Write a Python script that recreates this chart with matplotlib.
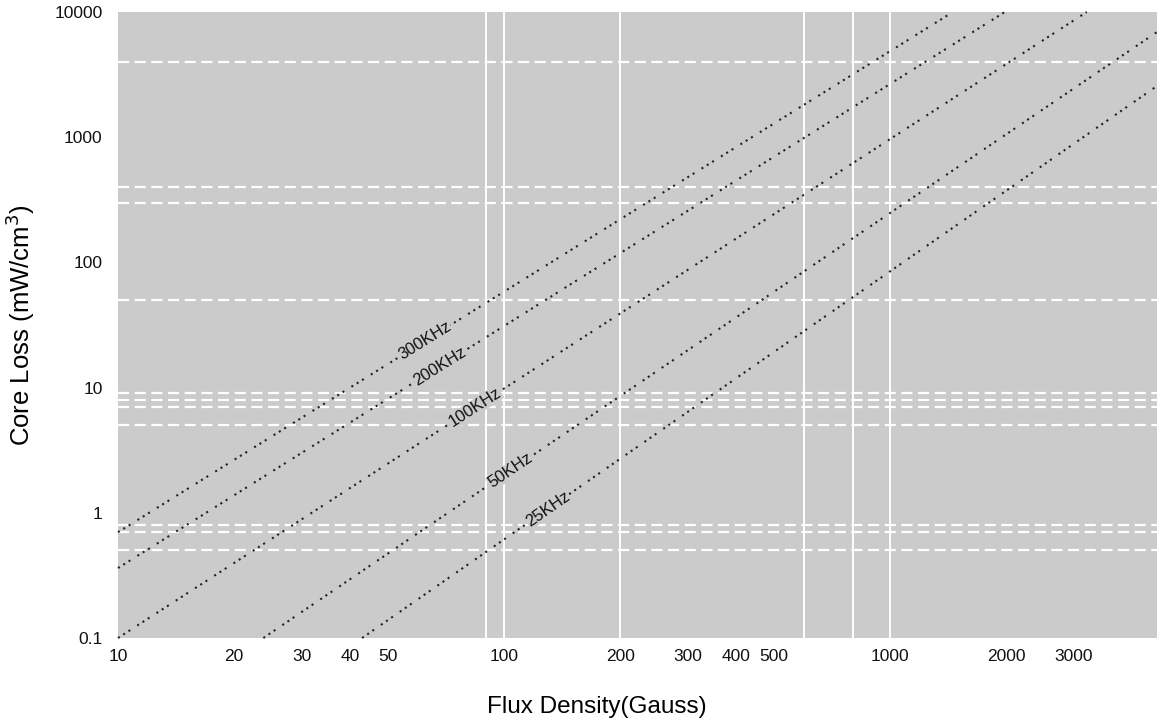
import numpy as np
import matplotlib
matplotlib.use("Agg")
import matplotlib.pyplot as plt

# core loss curves, straight lines on log-log
freq_labels = ["300KHz", "200KHz", "100KHz", "50KHz", "25KHz"]
flux_start = [10, 10, 10, 23.8, 42.9]
loss_start = [0.70, 0.362, 0.1, 0.1, 0.1]
flux_end = [1456, 1985, 3236, 4920, 4920]
loss_end = [10000, 10000, 10000, 6920, 2565]
label_flux = [62.4, 68.2, 84.1, 103.8, 130]

x_ticks = [10, 20, 30, 40, 50, 100, 200, 300, 400, 500, 1000, 2000, 3000]
y_ticks = [0.1, 1, 10, 100, 1000, 10000]
y_ticklabels = ["0.1", "1", "10", "100", "1000", "10000"]

# odd white grid lines in the original
vgrid = [90, 100, 200, 600, 800, 1000]
hgrid = [4000, 400, 300, 50, 9, 8, 7, 5, 0.8, 0.7, 0.5]

plt.rcParams['font.family'] = ['Liberation Sans', 'DejaVu Sans']

fig = plt.figure(figsize=(11.57, 7.23), dpi=100)
ax = fig.add_axes([118/1157, (723-638)/723, 1 - 118/1157, (638-12)/723])
ax.set_facecolor('#cbcbcb')
ax.set_xscale('log')
ax.set_yscale('log')
ax.set_xlim(10, 4920)
ax.set_ylim(0.1, 10000)

for v in vgrid:
    ax.axvline(v, color='white', lw=1.4, zorder=1)
for h in hgrid:
    ax.axhline(h, color='white', lw=1.6, ls=(0, (5, 2.5)), zorder=1)

for i, name in enumerate(freq_labels):
    xs = [flux_start[i], flux_end[i]]
    ys = [loss_start[i], loss_end[i]]
    ax.plot(xs, ys, color='#222222', lw=1.5,
            ls=(0, (1, 2, 1, 2, 1, 4)), zorder=2, clip_on=False)
    # label sitting on the line
    lx = label_flux[i]
    t = (np.log10(lx) - np.log10(xs[0])) / (np.log10(xs[1]) - np.log10(xs[0]))
    ly = 10 ** (np.log10(ys[0]) + t * (np.log10(ys[1]) - np.log10(ys[0])))
    p0 = ax.transData.transform((xs[0], ys[0]))
    p1 = ax.transData.transform((xs[1], ys[1]))
    ang = np.degrees(np.arctan2(p1[1] - p0[1], p1[0] - p0[0]))
    ax.text(lx, ly, name, rotation=ang, rotation_mode='anchor',
            ha='center', va='center', fontsize=12, color='#111111', zorder=3,
            bbox=dict(facecolor='#cbcbcb', edgecolor='none', pad=0.3))

ax.set_xticks(x_ticks)
ax.set_xticklabels([str(v) for v in x_ticks])
ax.set_yticks(y_ticks)
ax.set_yticklabels(y_ticklabels)
ax.xaxis.set_minor_locator(matplotlib.ticker.NullLocator())
ax.yaxis.set_minor_locator(matplotlib.ticker.NullLocator())
ax.tick_params(length=0, labelsize=12.5, colors='#111111')
ax.tick_params(axis='x', pad=8)
ax.tick_params(axis='y', pad=11)
for s in ax.spines.values():
    s.set_visible(False)

ax.set_xlabel("Flux Density(Gauss)", fontsize=17.5)
ax.set_ylabel("Core Loss (mW/cm$^3$)", fontsize=18.5)
ax.xaxis.set_label_coords(0.461, -0.092)
ax.yaxis.set_label_coords(-0.078, 0.5)

fig.savefig("out.png", dpi=100)
